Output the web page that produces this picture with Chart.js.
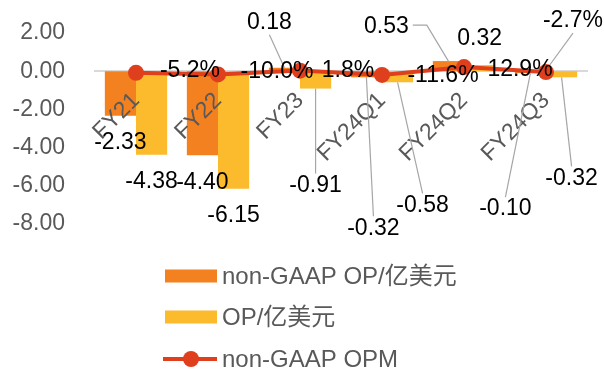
<!DOCTYPE html>
<html>
<head>
<meta charset="utf-8">
<script src="https://cdn.jsdelivr.net/npm/chart.js@4.4.0/dist/chart.umd.min.js"></script>
<style>
  html, body { margin: 0; padding: 0; background: #ffffff; }
  #wrap { width: 604px; height: 369px; }
</style>
</head>
<body>
<div id="wrap"><canvas id="chart" width="604" height="369"></canvas></div>
<script>
// ---- data ----
const categories = ['FY21', 'FY22', 'FY23', 'FY24Q1', 'FY24Q2', 'FY24Q3'];
const nonGaapOp = [-2.33, -4.40, 0.18, -0.32, 0.53, -0.10];   // 亿美元
const op = [-4.38, -6.15, -0.91, -0.58, 0.32, -0.32];         // 亿美元
const nonGaapOpm = [-5.2, -10.0, 1.8, -11.6, 12.9, -2.7];     // %
const yTickValues = [2, 0, -2, -4, -6, -8];
const seriesNames = ['non-GAAP OP/亿美元', 'OP/亿美元', 'non-GAAP OPM'];

// ---- styles ----
const FONT = "'Liberation Sans', Arial, 'Noto Sans CJK SC', sans-serif";
const COLORS = {
  nonGaapOp: '#F4811F',
  op: '#FBBB2C',
  opm: '#DF3F1D',
  text: '#595959',
  label: '#000000',
  leader: '#A6A6A6',
  axis: '#D9D9D9'
};

// Value-label placement per dataset: [dx, dy, leader] measured from the mark's anchor
// (bar end / line point). A truthy third entry draws a leader line back to the mark.
const labelPlacement = [
  [[0, 27], [0, 27], [-15, -45, 1], [7, 151, 1], [-62, -34, 1], [-25, 136, 1]],
  [[0, 27], [0, 27], [0, 97, 1], [25, 123, 1], [0, -26], [10, 101, 1]],
  [[54, -2], [59, -3], [48, 0], [61, 1], [56, 3], [27, -51, 1]]
];

const valueLabels = {
  id: 'valueLabels',
  afterDraw(chart) {
    const ctx = chart.ctx;
    ctx.save();
    ctx.font = '23px ' + FONT;
    ctx.textAlign = 'center';
    ctx.textBaseline = 'middle';
    chart.data.datasets.forEach((ds, di) => {
      const meta = chart.getDatasetMeta(di);
      meta.data.forEach((el, i) => {
        const v = ds.data[i];
        const text = ds.type === 'line' ? v.toFixed(1) + '%' : v.toFixed(2);
        const [dx, dy, lead] = labelPlacement[di][i];
        const ax = el.x, ay = el.y;
        const cx = ax + dx, cy = ay + dy;
        const w = ctx.measureText(text).width;
        const h = 18;
        if (lead) {
          let ex = ax, ey = ay;
          if (ds.type === 'line') {
            const len = Math.hypot(cx - ax, cy - ay);
            ex = ax + (cx - ax) / len * 8;
            ey = ay + (cy - ay) / len * 8;
          }
          ctx.beginPath();
          ctx.strokeStyle = COLORS.leader;
          ctx.lineWidth = 1.2;
          if (Math.abs(dy) > Math.abs(dx)) {
            const sy = dy > 0 ? cy - h / 2 - 3 : cy + h / 2 + 3;
            ctx.moveTo(cx, sy);
            ctx.lineTo(ex, ey);
          } else {
            const side = dx < 0 ? 1 : -1;
            const sx = cx + side * (w / 2 + 4);
            ctx.moveTo(sx, cy - 2);
            ctx.lineTo(sx + side * 14, cy - 2);
            ctx.lineTo(ex, ey);
          }
          ctx.stroke();
        }
        ctx.fillStyle = COLORS.label;
        ctx.fillText(text, cx, cy);
      });
    });
    ctx.restore();
  }
};

// Legend stacked in one column under the plot
const stackedLegend = {
  id: 'stackedLegend',
  afterDraw(chart) {
    const ctx = chart.ctx;
    const rows = [276, 317, 359];
    const swX = 165, swW = 52, textX = 222;
    ctx.save();
    ctx.font = '24px ' + FONT;
    ctx.textAlign = 'left';
    ctx.textBaseline = 'middle';
    chart.data.datasets.forEach((ds, i) => {
      const y = rows[i];
      if (ds.type === 'line') {
        ctx.beginPath();
        ctx.strokeStyle = ds.borderColor;
        ctx.lineWidth = 4;
        ctx.moveTo(swX - 2, y);
        ctx.lineTo(swX + swW, y);
        ctx.stroke();
        ctx.beginPath();
        ctx.fillStyle = ds.pointBackgroundColor;
        ctx.arc(swX + swW / 2, y, 8, 0, Math.PI * 2);
        ctx.fill();
      } else {
        ctx.fillStyle = ds.backgroundColor;
        ctx.fillRect(swX, y - 6.5, swW, 13);
      }
      ctx.fillStyle = COLORS.text;
      ctx.fillText(ds.label, textX, y + 1);
    });
    ctx.restore();
  }
};

new Chart(document.getElementById('chart'), {
  data: {
    labels: categories,
    datasets: [
      {
        type: 'bar',
        label: seriesNames[0],
        data: nonGaapOp,
        backgroundColor: COLORS.nonGaapOp,
        yAxisID: 'y',
        order: 1,
        categoryPercentage: 0.76,
        barPercentage: 1.0
      },
      {
        type: 'bar',
        label: seriesNames[1],
        data: op,
        backgroundColor: COLORS.op,
        yAxisID: 'y',
        order: 1,
        categoryPercentage: 0.76,
        barPercentage: 1.0
      },
      {
        type: 'line',
        label: seriesNames[2],
        data: nonGaapOpm,
        borderColor: COLORS.opm,
        backgroundColor: COLORS.opm,
        pointBackgroundColor: COLORS.opm,
        pointBorderColor: COLORS.opm,
        pointBorderWidth: 0,
        pointRadius: 8,
        borderWidth: 4,
        tension: 0,
        yAxisID: 'y2',
        order: 0
      }
    ]
  },
  options: {
    responsive: false,
    animation: false,
    devicePixelRatio: 1,
    layout: { padding: { top: 33, right: 17, left: 0, bottom: 145 } },
    plugins: {
      legend: { display: false },
      tooltip: { enabled: false }
    },
    scales: {
      x: {
        position: { y: 0 },
        grid: { display: false, drawTicks: false },
        border: { display: true, color: COLORS.axis, width: 2 },
        ticks: {
          z: 1,
          color: COLORS.text,
          font: { size: 23, family: FONT },
          minRotation: 45,
          maxRotation: 45,
          autoSkip: false,
          padding: 16
        },
        afterFit(scale) { scale.height = 0; }
      },
      y: {
        min: -8,
        max: 2,
        afterBuildTicks(scale) { scale.ticks = yTickValues.map(v => ({ value: v })); },
        grid: { display: false, drawTicks: false },
        border: { display: false },
        ticks: {
          color: COLORS.text,
          font: { size: 23, family: FONT },
          padding: 30,
          callback: v => v.toFixed(2)
        },
        afterFit(scale) {
          scale.width = 95;
          scale.paddingTop = 0;
          scale.paddingBottom = 0;
        }
      },
      y2: {
        type: 'linear',
        display: false,
        min: -480,
        max: 120
      }
    }
  },
  plugins: [valueLabels, stackedLegend]
});
</script>
</body>
</html>
